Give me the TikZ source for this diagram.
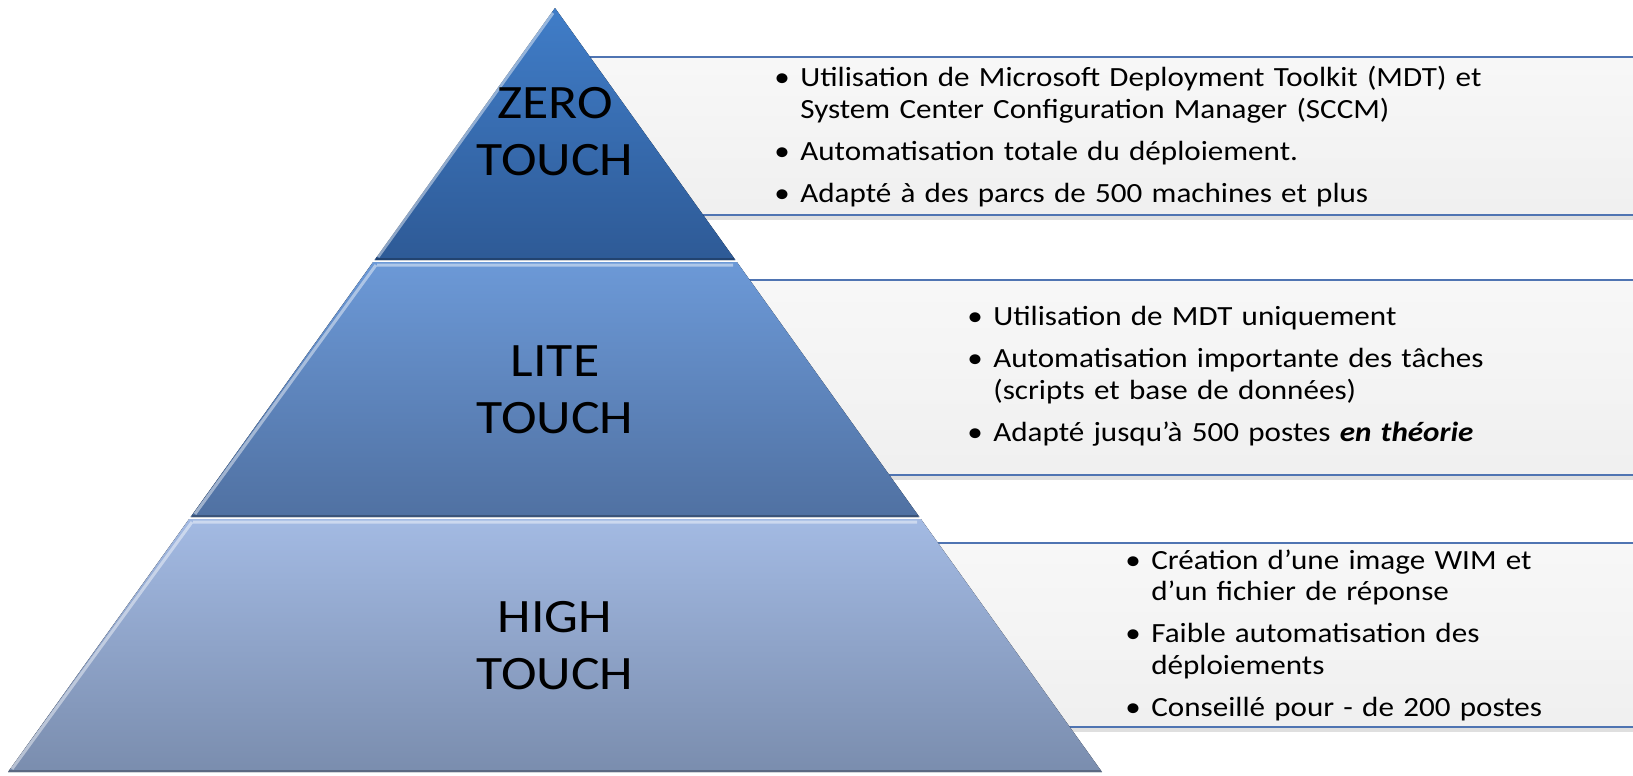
\documentclass[tikz,border=0pt]{standalone}
\usepackage{fontspec}
\setmainfont{Carlito}[FakeStretch=1.12]
\usepackage{xcolor}
\usepackage{tikz}
\usetikzlibrary{shadows,positioning}
\definecolor{zerotop}{RGB}{64,125,200}
\definecolor{zerobot}{RGB}{46,90,150}
\definecolor{litetop}{RGB}{108,153,215}
\definecolor{litebot}{RGB}{80,113,162}
\definecolor{hightop}{RGB}{163,186,227}
\definecolor{highbot}{RGB}{122,141,174}
\definecolor{rimblue}{RGB}{79,116,178}
\newcommand{\puce}[1]{\par\noindent\hangindent=0.52cm\hangafter=1\makebox[0.52cm][l]{\textbullet}#1}

\begin{document}
\begin{tikzpicture}[
    x=0.02cm, y=-0.02cm,
    panel/.style={top color=black!3, bottom color=black!6, draw=none,
        drop shadow={shadow xshift=0pt, shadow yshift=-0.1cm, opacity=0.25}},
    rim/.style={draw=rimblue, line width=0.04cm},
    tier/.style 2 args={top color=#1, bottom color=#2, draw=none},
    shine/.style={line width=0.06cm, white, opacity=0.45},
    dim/.style={line width=0.05cm, black, opacity=0.25},
    tierlabel/.style={font=\fontsize{27.3}{32.4}\selectfont, align=center},
    desc/.style={anchor=west, inner sep=0pt, align=left,
        font=\fontsize{15.8}{18.1}\selectfont,
        execute at begin node={\setlength{\parskip}{0.2cm}}}
]
    \useasboundingbox (0,0) rectangle (1633,775);

    % bandeaux derriere la pyramide
    \begin{scope}
        \clip (0,0) rectangle (1633,775);
        \fill[panel] (555,57) rectangle (1650,215);
        \draw[rim] (555,57) -- (1650,57) (555,215) -- (1650,215);
        \fill[panel] (555,280) rectangle (1650,475);
        \draw[rim] (555,280) -- (1650,280) (555,475) -- (1650,475);
        \fill[panel] (555,543) rectangle (1650,727);
        \draw[rim] (555,543) -- (1650,543) (555,727) -- (1650,727);
    \end{scope}

    % pyramide
    \fill[tier={zerotop}{zerobot}] (555,8) -- (735.4,260) -- (374.6,260) -- cycle;
    \fill[tier={litetop}{litebot}] (373.1,262) -- (736.9,262) -- (919.4,517) -- (190.6,517) -- cycle;
    \fill[tier={hightop}{highbot}] (189.1,519) -- (920.9,519) -- (1102,772) -- (8,772) -- cycle;

    \draw[shine] (553,13) -- (378,257);
    \draw[shine] (377,265) -- (733,265) (376,265) -- (195,514);
    \draw[shine] (193,522) -- (917,522) (192,522) -- (12,769);
    \draw[dim] (376,259) -- (734,259);
    \draw[dim] (192,516) -- (918,516);
    \draw[dim] (9,771) -- (1101,771);

    \node[tierlabel] (zero) at (555,132) {ZERO\\TOUCH};
    \node[tierlabel] (lite) at (555,390) {LITE\\TOUCH};
    \node[tierlabel] (high) at (555,646) {HIGH\\TOUCH};

    % textes des bandeaux
    \node[desc, text width=17cm] (zerotext) at (774,126) {%
        \puce{Utilisation de Microsoft Deployment Toolkit (MDT) et\newline System Center Configuration Manager (SCCM)}
        \puce{Automatisation totale du déploiement.}
        \puce{Adapté à des parcs de 500 machines et plus}};
    \node[desc, text width=13cm] (litetext) at (967,365) {%
        \puce{Utilisation de MDT uniquement}
        \puce{Automatisation importante des tâches\newline (scripts et base de données)}
        \puce{Adapté jusqu’à 500 postes \textbf{\textit{en théorie}}}};
    \node[desc, text width=10cm] (hightext) at (1125,624) {%
        \puce{Création d’une image WIM et\newline d’un fichier de réponse}
        \puce{Faible automatisation des\newline déploiements}
        \puce{Conseillé pour - de 200 postes}};
\end{tikzpicture}
\end{document}
